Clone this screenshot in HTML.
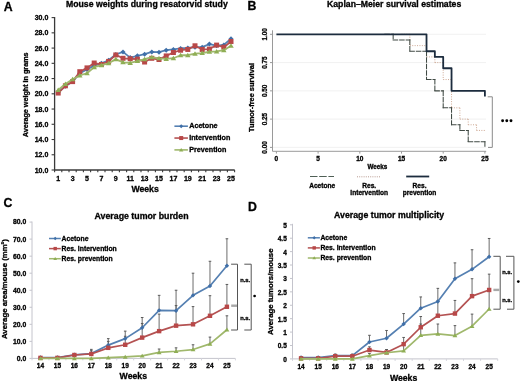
<!DOCTYPE html><html><head><meta charset="utf-8"><style>html,body{margin:0;padding:0;background:#fff;overflow:hidden}svg{display:block;filter:blur(0.4px)}text{stroke:#000;stroke-width:0.3px}</style></head><body>
<svg width="520" height="381" viewBox="0 0 520 381" font-family='"Liberation Sans", sans-serif' font-weight="bold">
<rect width="520" height="381" fill="#fff"/>
<text x="3.8" y="10.5" font-size="12.3" text-anchor="start" fill="#000">A</text>
<text x="66" y="6.9" font-size="8.7" text-anchor="start" fill="#000">Mouse weights during resatorvid study</text>
<line x1="54.6" y1="17" x2="54.6" y2="170" stroke="#3a3a3a" stroke-width="1.3"/>
<line x1="54" y1="170" x2="234.7" y2="170" stroke="#3a3a3a" stroke-width="1.3"/>
<line x1="51.6" y1="170" x2="54.6" y2="170" stroke="#3a3a3a" stroke-width="1.1"/>
<text x="48.3" y="172.5" font-size="7" text-anchor="end" fill="#000">10.0</text>
<line x1="51.6" y1="154.76" x2="54.6" y2="154.76" stroke="#3a3a3a" stroke-width="1.1"/>
<text x="48.3" y="157.26" font-size="7" text-anchor="end" fill="#000">12.0</text>
<line x1="51.6" y1="139.52" x2="54.6" y2="139.52" stroke="#3a3a3a" stroke-width="1.1"/>
<text x="48.3" y="142.02" font-size="7" text-anchor="end" fill="#000">14.0</text>
<line x1="51.6" y1="124.28" x2="54.6" y2="124.28" stroke="#3a3a3a" stroke-width="1.1"/>
<text x="48.3" y="126.78" font-size="7" text-anchor="end" fill="#000">16.0</text>
<line x1="51.6" y1="109.04" x2="54.6" y2="109.04" stroke="#3a3a3a" stroke-width="1.1"/>
<text x="48.3" y="111.54" font-size="7" text-anchor="end" fill="#000">18.0</text>
<line x1="51.6" y1="93.8" x2="54.6" y2="93.8" stroke="#3a3a3a" stroke-width="1.1"/>
<text x="48.3" y="96.3" font-size="7" text-anchor="end" fill="#000">20.0</text>
<line x1="51.6" y1="78.56" x2="54.6" y2="78.56" stroke="#3a3a3a" stroke-width="1.1"/>
<text x="48.3" y="81.06" font-size="7" text-anchor="end" fill="#000">22.0</text>
<line x1="51.6" y1="63.32" x2="54.6" y2="63.32" stroke="#3a3a3a" stroke-width="1.1"/>
<text x="48.3" y="65.82" font-size="7" text-anchor="end" fill="#000">24.0</text>
<line x1="51.6" y1="48.08" x2="54.6" y2="48.08" stroke="#3a3a3a" stroke-width="1.1"/>
<text x="48.3" y="50.58" font-size="7" text-anchor="end" fill="#000">26.0</text>
<line x1="51.6" y1="32.84" x2="54.6" y2="32.84" stroke="#3a3a3a" stroke-width="1.1"/>
<text x="48.3" y="35.34" font-size="7" text-anchor="end" fill="#000">28.0</text>
<line x1="51.6" y1="17.6" x2="54.6" y2="17.6" stroke="#3a3a3a" stroke-width="1.1"/>
<text x="48.3" y="20.1" font-size="7" text-anchor="end" fill="#000">30.0</text>
<line x1="54.6" y1="170" x2="54.6" y2="172.2" stroke="#3a3a3a" stroke-width="1.1"/>
<line x1="61.8" y1="170" x2="61.8" y2="172.2" stroke="#3a3a3a" stroke-width="1.1"/>
<line x1="69" y1="170" x2="69" y2="172.2" stroke="#3a3a3a" stroke-width="1.1"/>
<line x1="76.2" y1="170" x2="76.2" y2="172.2" stroke="#3a3a3a" stroke-width="1.1"/>
<line x1="83.4" y1="170" x2="83.4" y2="172.2" stroke="#3a3a3a" stroke-width="1.1"/>
<line x1="90.6" y1="170" x2="90.6" y2="172.2" stroke="#3a3a3a" stroke-width="1.1"/>
<line x1="97.8" y1="170" x2="97.8" y2="172.2" stroke="#3a3a3a" stroke-width="1.1"/>
<line x1="105" y1="170" x2="105" y2="172.2" stroke="#3a3a3a" stroke-width="1.1"/>
<line x1="112.2" y1="170" x2="112.2" y2="172.2" stroke="#3a3a3a" stroke-width="1.1"/>
<line x1="119.4" y1="170" x2="119.4" y2="172.2" stroke="#3a3a3a" stroke-width="1.1"/>
<line x1="126.6" y1="170" x2="126.6" y2="172.2" stroke="#3a3a3a" stroke-width="1.1"/>
<line x1="133.8" y1="170" x2="133.8" y2="172.2" stroke="#3a3a3a" stroke-width="1.1"/>
<line x1="141" y1="170" x2="141" y2="172.2" stroke="#3a3a3a" stroke-width="1.1"/>
<line x1="148.2" y1="170" x2="148.2" y2="172.2" stroke="#3a3a3a" stroke-width="1.1"/>
<line x1="155.4" y1="170" x2="155.4" y2="172.2" stroke="#3a3a3a" stroke-width="1.1"/>
<line x1="162.6" y1="170" x2="162.6" y2="172.2" stroke="#3a3a3a" stroke-width="1.1"/>
<line x1="169.8" y1="170" x2="169.8" y2="172.2" stroke="#3a3a3a" stroke-width="1.1"/>
<line x1="177" y1="170" x2="177" y2="172.2" stroke="#3a3a3a" stroke-width="1.1"/>
<line x1="184.2" y1="170" x2="184.2" y2="172.2" stroke="#3a3a3a" stroke-width="1.1"/>
<line x1="191.4" y1="170" x2="191.4" y2="172.2" stroke="#3a3a3a" stroke-width="1.1"/>
<line x1="198.6" y1="170" x2="198.6" y2="172.2" stroke="#3a3a3a" stroke-width="1.1"/>
<line x1="205.8" y1="170" x2="205.8" y2="172.2" stroke="#3a3a3a" stroke-width="1.1"/>
<line x1="213" y1="170" x2="213" y2="172.2" stroke="#3a3a3a" stroke-width="1.1"/>
<line x1="220.2" y1="170" x2="220.2" y2="172.2" stroke="#3a3a3a" stroke-width="1.1"/>
<line x1="227.4" y1="170" x2="227.4" y2="172.2" stroke="#3a3a3a" stroke-width="1.1"/>
<line x1="234.6" y1="170" x2="234.6" y2="172.2" stroke="#3a3a3a" stroke-width="1.1"/>
<text x="58.2" y="180.6" font-size="7" text-anchor="middle" fill="#000">1</text>
<text x="72.6" y="180.6" font-size="7" text-anchor="middle" fill="#000">3</text>
<text x="87" y="180.6" font-size="7" text-anchor="middle" fill="#000">5</text>
<text x="101.4" y="180.6" font-size="7" text-anchor="middle" fill="#000">7</text>
<text x="115.8" y="180.6" font-size="7" text-anchor="middle" fill="#000">9</text>
<text x="130.2" y="180.6" font-size="7" text-anchor="middle" fill="#000">11</text>
<text x="144.6" y="180.6" font-size="7" text-anchor="middle" fill="#000">13</text>
<text x="159" y="180.6" font-size="7" text-anchor="middle" fill="#000">15</text>
<text x="173.4" y="180.6" font-size="7" text-anchor="middle" fill="#000">17</text>
<text x="187.8" y="180.6" font-size="7" text-anchor="middle" fill="#000">19</text>
<text x="202.2" y="180.6" font-size="7" text-anchor="middle" fill="#000">21</text>
<text x="216.6" y="180.6" font-size="7" text-anchor="middle" fill="#000">23</text>
<text x="231" y="180.6" font-size="7" text-anchor="middle" fill="#000">25</text>
<text x="145.1" y="191.5" font-size="8.7" text-anchor="middle" fill="#000">Weeks</text>
<text x="27.7" y="94.85" font-size="7.2" text-anchor="middle" fill="#000" transform="rotate(-90 27.7 94.85)">Average weight in grams</text>
<polyline points="58.2,92.28 65.4,86.18 72.6,81.61 79.8,73.23 87,69.42 94.2,65.61 101.4,63.32 108.6,60.27 115.8,54.48 123,51.89 130.2,57.61 137.4,55.78 144.6,54.18 151.8,51.89 159,52.19 166.2,50.21 173.4,49.45 180.6,48.38 187.8,48 195,47.17 202.2,47.17 209.4,44.12 216.6,45.64 223.8,44.88 231,38.78" fill="none" stroke="#5580b2" stroke-width="1.8" stroke-linejoin="round"/>
<path d="M58.2 89.78L60.7 92.28L58.2 94.78L55.7 92.28Z" fill="#3f6fa8"/>
<path d="M65.4 83.68L67.9 86.18L65.4 88.68L62.9 86.18Z" fill="#3f6fa8"/>
<path d="M72.6 79.11L75.1 81.61L72.6 84.11L70.1 81.61Z" fill="#3f6fa8"/>
<path d="M79.8 70.73L82.3 73.23L79.8 75.73L77.3 73.23Z" fill="#3f6fa8"/>
<path d="M87 66.92L89.5 69.42L87 71.92L84.5 69.42Z" fill="#3f6fa8"/>
<path d="M94.2 63.11L96.7 65.61L94.2 68.11L91.7 65.61Z" fill="#3f6fa8"/>
<path d="M101.4 60.82L103.9 63.32L101.4 65.82L98.9 63.32Z" fill="#3f6fa8"/>
<path d="M108.6 57.77L111.1 60.27L108.6 62.77L106.1 60.27Z" fill="#3f6fa8"/>
<path d="M115.8 51.98L118.3 54.48L115.8 56.98L113.3 54.48Z" fill="#3f6fa8"/>
<path d="M123 49.39L125.5 51.89L123 54.39L120.5 51.89Z" fill="#3f6fa8"/>
<path d="M130.2 55.11L132.7 57.61L130.2 60.11L127.7 57.61Z" fill="#3f6fa8"/>
<path d="M137.4 53.28L139.9 55.78L137.4 58.28L134.9 55.78Z" fill="#3f6fa8"/>
<path d="M144.6 51.68L147.1 54.18L144.6 56.68L142.1 54.18Z" fill="#3f6fa8"/>
<path d="M151.8 49.39L154.3 51.89L151.8 54.39L149.3 51.89Z" fill="#3f6fa8"/>
<path d="M159 49.69L161.5 52.19L159 54.69L156.5 52.19Z" fill="#3f6fa8"/>
<path d="M166.2 47.71L168.7 50.21L166.2 52.71L163.7 50.21Z" fill="#3f6fa8"/>
<path d="M173.4 46.95L175.9 49.45L173.4 51.95L170.9 49.45Z" fill="#3f6fa8"/>
<path d="M180.6 45.88L183.1 48.38L180.6 50.88L178.1 48.38Z" fill="#3f6fa8"/>
<path d="M187.8 45.5L190.3 48L187.8 50.5L185.3 48Z" fill="#3f6fa8"/>
<path d="M195 44.67L197.5 47.17L195 49.67L192.5 47.17Z" fill="#3f6fa8"/>
<path d="M202.2 44.67L204.7 47.17L202.2 49.67L199.7 47.17Z" fill="#3f6fa8"/>
<path d="M209.4 41.62L211.9 44.12L209.4 46.62L206.9 44.12Z" fill="#3f6fa8"/>
<path d="M216.6 43.14L219.1 45.64L216.6 48.14L214.1 45.64Z" fill="#3f6fa8"/>
<path d="M223.8 42.38L226.3 44.88L223.8 47.38L221.3 44.88Z" fill="#3f6fa8"/>
<path d="M231 36.28L233.5 38.78L231 41.28L228.5 38.78Z" fill="#3f6fa8"/>
<polyline points="58.2,93.04 65.4,85.8 72.6,81.61 79.8,71.7 87,67.89 94.2,63.02 101.4,64.46 108.6,61.41 115.8,54.94 123,58.29 130.2,58.75 137.4,59.13 144.6,62.02 151.8,58.29 159,59.51 166.2,55.93 173.4,52.5 180.6,50.21 187.8,49.45 195,45.79 202.2,49.45 209.4,49.07 216.6,45.11 223.8,47.17 231,41.53" fill="none" stroke="#b45252" stroke-width="1.8" stroke-linejoin="round"/>
<rect x="55.7" y="90.54" width="5" height="5" fill="#b84848"/>
<rect x="62.9" y="83.3" width="5" height="5" fill="#b84848"/>
<rect x="70.1" y="79.11" width="5" height="5" fill="#b84848"/>
<rect x="77.3" y="69.2" width="5" height="5" fill="#b84848"/>
<rect x="84.5" y="65.39" width="5" height="5" fill="#b84848"/>
<rect x="91.7" y="60.52" width="5" height="5" fill="#b84848"/>
<rect x="98.9" y="61.96" width="5" height="5" fill="#b84848"/>
<rect x="106.1" y="58.91" width="5" height="5" fill="#b84848"/>
<rect x="113.3" y="52.44" width="5" height="5" fill="#b84848"/>
<rect x="120.5" y="55.79" width="5" height="5" fill="#b84848"/>
<rect x="127.7" y="56.25" width="5" height="5" fill="#b84848"/>
<rect x="134.9" y="56.63" width="5" height="5" fill="#b84848"/>
<rect x="142.1" y="59.52" width="5" height="5" fill="#b84848"/>
<rect x="149.3" y="55.79" width="5" height="5" fill="#b84848"/>
<rect x="156.5" y="57.01" width="5" height="5" fill="#b84848"/>
<rect x="163.7" y="53.43" width="5" height="5" fill="#b84848"/>
<rect x="170.9" y="50" width="5" height="5" fill="#b84848"/>
<rect x="178.1" y="47.71" width="5" height="5" fill="#b84848"/>
<rect x="185.3" y="46.95" width="5" height="5" fill="#b84848"/>
<rect x="192.5" y="43.29" width="5" height="5" fill="#b84848"/>
<rect x="199.7" y="46.95" width="5" height="5" fill="#b84848"/>
<rect x="206.9" y="46.57" width="5" height="5" fill="#b84848"/>
<rect x="214.1" y="42.61" width="5" height="5" fill="#b84848"/>
<rect x="221.3" y="44.67" width="5" height="5" fill="#b84848"/>
<rect x="228.5" y="39.03" width="5" height="5" fill="#b84848"/>
<polyline points="58.2,89.99 65.4,83.89 72.6,79.32 79.8,75.51 87,73.23 94.2,67.13 101.4,65.22 108.6,63.32 115.8,59.13 123,62.33 130.2,62.94 137.4,61.03 144.6,59.13 151.8,57.22 159,58.29 166.2,58.9 173.4,58.21 180.6,55.24 187.8,55.24 195,53.72 202.2,53.03 209.4,51.74 216.6,51.43 223.8,50.21 231,45.79" fill="none" stroke="#a0b86c" stroke-width="1.8" stroke-linejoin="round"/>
<path d="M58.2 87.49L60.95 91.99L55.45 91.99Z" fill="#8fae55"/>
<path d="M65.4 81.39L68.15 85.89L62.65 85.89Z" fill="#8fae55"/>
<path d="M72.6 76.82L75.35 81.32L69.85 81.32Z" fill="#8fae55"/>
<path d="M79.8 73.01L82.55 77.51L77.05 77.51Z" fill="#8fae55"/>
<path d="M87 70.73L89.75 75.23L84.25 75.23Z" fill="#8fae55"/>
<path d="M94.2 64.63L96.95 69.13L91.45 69.13Z" fill="#8fae55"/>
<path d="M101.4 62.72L104.15 67.22L98.65 67.22Z" fill="#8fae55"/>
<path d="M108.6 60.82L111.35 65.32L105.85 65.32Z" fill="#8fae55"/>
<path d="M115.8 56.63L118.55 61.13L113.05 61.13Z" fill="#8fae55"/>
<path d="M123 59.83L125.75 64.33L120.25 64.33Z" fill="#8fae55"/>
<path d="M130.2 60.44L132.95 64.94L127.45 64.94Z" fill="#8fae55"/>
<path d="M137.4 58.53L140.15 63.03L134.65 63.03Z" fill="#8fae55"/>
<path d="M144.6 56.63L147.35 61.13L141.85 61.13Z" fill="#8fae55"/>
<path d="M151.8 54.72L154.55 59.22L149.05 59.22Z" fill="#8fae55"/>
<path d="M159 55.79L161.75 60.29L156.25 60.29Z" fill="#8fae55"/>
<path d="M166.2 56.4L168.95 60.9L163.45 60.9Z" fill="#8fae55"/>
<path d="M173.4 55.71L176.15 60.21L170.65 60.21Z" fill="#8fae55"/>
<path d="M180.6 52.74L183.35 57.24L177.85 57.24Z" fill="#8fae55"/>
<path d="M187.8 52.74L190.55 57.24L185.05 57.24Z" fill="#8fae55"/>
<path d="M195 51.22L197.75 55.72L192.25 55.72Z" fill="#8fae55"/>
<path d="M202.2 50.53L204.95 55.03L199.45 55.03Z" fill="#8fae55"/>
<path d="M209.4 49.24L212.15 53.74L206.65 53.74Z" fill="#8fae55"/>
<path d="M216.6 48.93L219.35 53.43L213.85 53.43Z" fill="#8fae55"/>
<path d="M223.8 47.71L226.55 52.21L221.05 52.21Z" fill="#8fae55"/>
<path d="M231 43.29L233.75 47.79L228.25 47.79Z" fill="#8fae55"/>
<line x1="174.4" y1="126.2" x2="187.9" y2="126.2" stroke="#5580b2" stroke-width="1.6"/>
<path d="M181.2 124.2L183.2 126.2L181.2 128.2L179.2 126.2Z" fill="#3f6fa8"/>
<text x="189.2" y="128.4" font-size="7.2" text-anchor="start" fill="#000">Acetone</text>
<line x1="174.4" y1="138.05" x2="187.9" y2="138.05" stroke="#b45252" stroke-width="1.6"/>
<rect x="179.2" y="136.05" width="4" height="4" fill="#b84848"/>
<text x="189.2" y="140.25" font-size="7.2" text-anchor="start" fill="#000">Intervention</text>
<line x1="174.4" y1="149.9" x2="187.9" y2="149.9" stroke="#a0b86c" stroke-width="1.6"/>
<path d="M181.2 147.9L183.4 151.5L179 151.5Z" fill="#8fae55"/>
<text x="189.2" y="152.1" font-size="7.2" text-anchor="start" fill="#000">Prevention</text>
<text x="247.6" y="10.3" font-size="12.3" text-anchor="start" fill="#000">B</text>
<text x="327" y="6.9" font-size="8.7" text-anchor="start" fill="#000">Kaplan–Meier survival estimates</text>
<line x1="273" y1="147.4" x2="486" y2="147.4" stroke="#ededed" stroke-width="0.8"/>
<line x1="273" y1="119.12" x2="486" y2="119.12" stroke="#ededed" stroke-width="0.8"/>
<line x1="273" y1="90.85" x2="486" y2="90.85" stroke="#ededed" stroke-width="0.8"/>
<line x1="273" y1="62.58" x2="486" y2="62.58" stroke="#ededed" stroke-width="0.8"/>
<line x1="273" y1="34.3" x2="486" y2="34.3" stroke="#ededed" stroke-width="0.8"/>
<line x1="272.5" y1="30.3" x2="272.5" y2="151.3" stroke="#9a9a9a" stroke-width="1"/>
<line x1="272.5" y1="151.3" x2="486.2" y2="151.3" stroke="#9a9a9a" stroke-width="1"/>
<line x1="270" y1="147.4" x2="272.5" y2="147.4" stroke="#9a9a9a" stroke-width="1"/>
<text x="266.6" y="147.4" font-size="6.4" text-anchor="middle" fill="#000" transform="rotate(-90 266.6 147.4)">0.00</text>
<line x1="270" y1="119.12" x2="272.5" y2="119.12" stroke="#9a9a9a" stroke-width="1"/>
<text x="266.6" y="119.12" font-size="6.4" text-anchor="middle" fill="#000" transform="rotate(-90 266.6 119.12)">0.25</text>
<line x1="270" y1="90.85" x2="272.5" y2="90.85" stroke="#9a9a9a" stroke-width="1"/>
<text x="266.6" y="90.85" font-size="6.4" text-anchor="middle" fill="#000" transform="rotate(-90 266.6 90.85)">0.50</text>
<line x1="270" y1="62.58" x2="272.5" y2="62.58" stroke="#9a9a9a" stroke-width="1"/>
<text x="266.6" y="62.58" font-size="6.4" text-anchor="middle" fill="#000" transform="rotate(-90 266.6 62.58)">0.75</text>
<line x1="270" y1="34.3" x2="272.5" y2="34.3" stroke="#9a9a9a" stroke-width="1"/>
<text x="266.6" y="34.3" font-size="6.4" text-anchor="middle" fill="#000" transform="rotate(-90 266.6 34.3)">1.00</text>
<line x1="276.4" y1="151.3" x2="276.4" y2="153.6" stroke="#9a9a9a" stroke-width="1"/>
<text x="276.4" y="160.7" font-size="6.5" text-anchor="middle" fill="#000">0</text>
<line x1="318.1" y1="151.3" x2="318.1" y2="153.6" stroke="#9a9a9a" stroke-width="1"/>
<text x="318.1" y="160.7" font-size="6.5" text-anchor="middle" fill="#000">5</text>
<line x1="359.8" y1="151.3" x2="359.8" y2="153.6" stroke="#9a9a9a" stroke-width="1"/>
<text x="359.8" y="160.7" font-size="6.5" text-anchor="middle" fill="#000">10</text>
<line x1="401.5" y1="151.3" x2="401.5" y2="153.6" stroke="#9a9a9a" stroke-width="1"/>
<text x="401.5" y="160.7" font-size="6.5" text-anchor="middle" fill="#000">15</text>
<line x1="443.2" y1="151.3" x2="443.2" y2="153.6" stroke="#9a9a9a" stroke-width="1"/>
<text x="443.2" y="160.7" font-size="6.5" text-anchor="middle" fill="#000">20</text>
<line x1="484.9" y1="151.3" x2="484.9" y2="153.6" stroke="#9a9a9a" stroke-width="1"/>
<text x="484.9" y="160.7" font-size="6.5" text-anchor="middle" fill="#000">25</text>
<text x="377.3" y="168.9" font-size="6.3" text-anchor="middle" fill="#000">Weeks</text>
<text x="254.4" y="97.45" font-size="7.45" text-anchor="middle" fill="#000" transform="rotate(-90 254.4 97.45)">Tumor-free survival</text>
<line x1="401.5" y1="34.3" x2="409.84" y2="34.3" stroke="#c9a08a" stroke-width="0.9" stroke-dasharray="1 1.4"/>
<line x1="409.84" y1="34.3" x2="409.84" y2="45.61" stroke="#c9a08a" stroke-width="0.9" stroke-dasharray="1 1.4"/>
<line x1="409.84" y1="45.61" x2="426.52" y2="45.61" stroke="#c9a08a" stroke-width="0.9" stroke-dasharray="1 1.4"/>
<line x1="426.52" y1="45.61" x2="426.52" y2="56.92" stroke="#c9a08a" stroke-width="0.9" stroke-dasharray="1 1.4"/>
<line x1="426.52" y1="56.92" x2="434.86" y2="56.92" stroke="#c9a08a" stroke-width="0.9" stroke-dasharray="1 1.4"/>
<line x1="434.86" y1="56.92" x2="434.86" y2="62.58" stroke="#c9a08a" stroke-width="0.9" stroke-dasharray="1 1.4"/>
<line x1="434.86" y1="62.58" x2="443.2" y2="62.58" stroke="#c9a08a" stroke-width="0.9" stroke-dasharray="1 1.4"/>
<line x1="443.2" y1="62.58" x2="443.2" y2="79.54" stroke="#c9a08a" stroke-width="0.9" stroke-dasharray="1 1.4"/>
<line x1="443.2" y1="79.54" x2="451.54" y2="79.54" stroke="#c9a08a" stroke-width="0.9" stroke-dasharray="1 1.4"/>
<line x1="451.54" y1="79.54" x2="451.54" y2="107.82" stroke="#c9a08a" stroke-width="0.9" stroke-dasharray="1 1.4"/>
<line x1="451.54" y1="107.82" x2="459.88" y2="107.82" stroke="#c9a08a" stroke-width="0.9" stroke-dasharray="1 1.4"/>
<line x1="459.88" y1="107.82" x2="459.88" y2="119.12" stroke="#c9a08a" stroke-width="0.9" stroke-dasharray="1 1.4"/>
<line x1="459.88" y1="119.12" x2="468.22" y2="119.12" stroke="#c9a08a" stroke-width="0.9" stroke-dasharray="1 1.4"/>
<line x1="468.22" y1="119.12" x2="468.22" y2="124.78" stroke="#c9a08a" stroke-width="0.9" stroke-dasharray="1 1.4"/>
<line x1="468.22" y1="124.78" x2="476.56" y2="124.78" stroke="#c9a08a" stroke-width="0.9" stroke-dasharray="1 1.4"/>
<line x1="476.56" y1="124.78" x2="476.56" y2="130.44" stroke="#c9a08a" stroke-width="0.9" stroke-dasharray="1 1.4"/>
<line x1="476.56" y1="130.44" x2="484.9" y2="130.44" stroke="#c9a08a" stroke-width="0.9" stroke-dasharray="1 1.4"/>
<line x1="484.9" y1="130.44" x2="484.9" y2="130.44" stroke="#c9a08a" stroke-width="0.9" stroke-dasharray="1 1.4"/>
<line x1="384.82" y1="34.3" x2="393.16" y2="34.3" stroke="#404a44" stroke-width="1.05" stroke-dasharray="4.5 2" stroke-linecap="square"/>
<line x1="393.16" y1="34.3" x2="393.16" y2="39.96" stroke="#404a44" stroke-width="1.05" stroke-dasharray="4.5 2" stroke-linecap="square"/>
<line x1="393.16" y1="39.96" x2="409.84" y2="39.96" stroke="#404a44" stroke-width="1.05" stroke-dasharray="4.5 2" stroke-linecap="square"/>
<line x1="409.84" y1="39.96" x2="409.84" y2="51.27" stroke="#404a44" stroke-width="1.05" stroke-dasharray="4.5 2" stroke-linecap="square"/>
<line x1="409.84" y1="51.27" x2="426.52" y2="51.27" stroke="#404a44" stroke-width="1.05" stroke-dasharray="4.5 2" stroke-linecap="square"/>
<line x1="426.52" y1="51.27" x2="426.52" y2="79.54" stroke="#404a44" stroke-width="1.05" stroke-dasharray="4.5 2" stroke-linecap="square"/>
<line x1="426.52" y1="79.54" x2="434.86" y2="79.54" stroke="#404a44" stroke-width="1.05" stroke-dasharray="4.5 2" stroke-linecap="square"/>
<line x1="434.86" y1="79.54" x2="434.86" y2="90.85" stroke="#404a44" stroke-width="1.05" stroke-dasharray="4.5 2" stroke-linecap="square"/>
<line x1="434.86" y1="90.85" x2="443.2" y2="90.85" stroke="#404a44" stroke-width="1.05" stroke-dasharray="4.5 2" stroke-linecap="square"/>
<line x1="443.2" y1="90.85" x2="443.2" y2="107.82" stroke="#404a44" stroke-width="1.05" stroke-dasharray="4.5 2" stroke-linecap="square"/>
<line x1="443.2" y1="107.82" x2="451.54" y2="107.82" stroke="#404a44" stroke-width="1.05" stroke-dasharray="4.5 2" stroke-linecap="square"/>
<line x1="451.54" y1="107.82" x2="451.54" y2="124.78" stroke="#404a44" stroke-width="1.05" stroke-dasharray="4.5 2" stroke-linecap="square"/>
<line x1="451.54" y1="124.78" x2="459.88" y2="124.78" stroke="#404a44" stroke-width="1.05" stroke-dasharray="4.5 2" stroke-linecap="square"/>
<line x1="459.88" y1="124.78" x2="459.88" y2="130.44" stroke="#404a44" stroke-width="1.05" stroke-dasharray="4.5 2" stroke-linecap="square"/>
<line x1="459.88" y1="130.44" x2="468.22" y2="130.44" stroke="#404a44" stroke-width="1.05" stroke-dasharray="4.5 2" stroke-linecap="square"/>
<line x1="468.22" y1="130.44" x2="468.22" y2="141.75" stroke="#404a44" stroke-width="1.05" stroke-dasharray="4.5 2" stroke-linecap="square"/>
<line x1="468.22" y1="141.75" x2="484.9" y2="141.75" stroke="#404a44" stroke-width="1.05" stroke-dasharray="4.5 2" stroke-linecap="square"/>
<line x1="484.9" y1="141.75" x2="484.9" y2="147.4" stroke="#404a44" stroke-width="1.05" stroke-dasharray="4.5 2" stroke-linecap="square"/>
<polyline points="276.4,34.3 426.52,34.3 426.52,51.27 434.86,51.27 434.86,56.92 443.2,56.92 443.2,68.23 451.54,68.23 451.54,90.85 484.9,90.85 484.9,96.51" fill="none" stroke="#1c2c3e" stroke-width="1.8" stroke-linejoin="round" stroke-linejoin="miter"/>
<polyline points="487.7,96.8 492.3,96.8 492.3,147.4 488,147.4" fill="none" stroke="#8a8a8a" stroke-width="1" stroke-linejoin="round"/>
<circle cx="502.6" cy="120.8" r="1.45" fill="#000"/>
<circle cx="506.8" cy="120.8" r="1.45" fill="#000"/>
<circle cx="511.0" cy="120.8" r="1.45" fill="#000"/>
<line x1="310" y1="176.5" x2="334" y2="176.5" stroke="#4f5f55" stroke-width="1.1" stroke-dasharray="7.5 1.7"/>
<line x1="357" y1="176.8" x2="380" y2="176.8" stroke="#b89a90" stroke-width="1" stroke-dasharray="1 1.2"/>
<line x1="406.2" y1="176.5" x2="429.2" y2="176.5" stroke="#1c2c3e" stroke-width="1.8"/>
<text x="322.2" y="187.6" font-size="6.6" text-anchor="middle" fill="#000">Acetone</text>
<text x="369.2" y="187.6" font-size="6.6" text-anchor="middle" fill="#000">Res.</text>
<text x="369.2" y="195" font-size="6.6" text-anchor="middle" fill="#000">Intervention</text>
<text x="419.5" y="187.6" font-size="6.6" text-anchor="middle" fill="#000">Res.</text>
<text x="419.5" y="195" font-size="6.6" text-anchor="middle" fill="#000">prevention</text>
<text x="3.6" y="206.8" font-size="12.3" text-anchor="start" fill="#000">C</text>
<text x="94.5" y="218.7" font-size="8.8" text-anchor="start" fill="#000">Average tumor burden</text>
<line x1="32" y1="221.5" x2="32" y2="358.4" stroke="#c4c4cc" stroke-width="1"/>
<line x1="32" y1="358.4" x2="235.4" y2="358.4" stroke="#c4c4cc" stroke-width="1"/>
<line x1="29.5" y1="358.4" x2="32" y2="358.4" stroke="#c4c4cc" stroke-width="1"/>
<text x="26.3" y="360.8" font-size="6.8" text-anchor="end" fill="#000">0.0</text>
<line x1="29.5" y1="341.36" x2="32" y2="341.36" stroke="#c4c4cc" stroke-width="1"/>
<text x="26.3" y="343.76" font-size="6.8" text-anchor="end" fill="#000">10.0</text>
<line x1="29.5" y1="324.32" x2="32" y2="324.32" stroke="#c4c4cc" stroke-width="1"/>
<text x="26.3" y="326.72" font-size="6.8" text-anchor="end" fill="#000">20.0</text>
<line x1="29.5" y1="307.28" x2="32" y2="307.28" stroke="#c4c4cc" stroke-width="1"/>
<text x="26.3" y="309.68" font-size="6.8" text-anchor="end" fill="#000">30.0</text>
<line x1="29.5" y1="290.24" x2="32" y2="290.24" stroke="#c4c4cc" stroke-width="1"/>
<text x="26.3" y="292.64" font-size="6.8" text-anchor="end" fill="#000">40.0</text>
<line x1="29.5" y1="273.2" x2="32" y2="273.2" stroke="#c4c4cc" stroke-width="1"/>
<text x="26.3" y="275.6" font-size="6.8" text-anchor="end" fill="#000">50.0</text>
<line x1="29.5" y1="256.16" x2="32" y2="256.16" stroke="#c4c4cc" stroke-width="1"/>
<text x="26.3" y="258.56" font-size="6.8" text-anchor="end" fill="#000">60.0</text>
<line x1="29.5" y1="239.12" x2="32" y2="239.12" stroke="#c4c4cc" stroke-width="1"/>
<text x="26.3" y="241.52" font-size="6.8" text-anchor="end" fill="#000">70.0</text>
<line x1="29.5" y1="222.08" x2="32" y2="222.08" stroke="#c4c4cc" stroke-width="1"/>
<text x="26.3" y="224.48" font-size="6.8" text-anchor="end" fill="#000">80.0</text>
<line x1="32" y1="358.4" x2="32" y2="360.4" stroke="#d4d4dc" stroke-width="1"/>
<line x1="48.95" y1="358.4" x2="48.95" y2="360.4" stroke="#d4d4dc" stroke-width="1"/>
<line x1="65.9" y1="358.4" x2="65.9" y2="360.4" stroke="#d4d4dc" stroke-width="1"/>
<line x1="82.85" y1="358.4" x2="82.85" y2="360.4" stroke="#d4d4dc" stroke-width="1"/>
<line x1="99.8" y1="358.4" x2="99.8" y2="360.4" stroke="#d4d4dc" stroke-width="1"/>
<line x1="116.75" y1="358.4" x2="116.75" y2="360.4" stroke="#d4d4dc" stroke-width="1"/>
<line x1="133.7" y1="358.4" x2="133.7" y2="360.4" stroke="#d4d4dc" stroke-width="1"/>
<line x1="150.65" y1="358.4" x2="150.65" y2="360.4" stroke="#d4d4dc" stroke-width="1"/>
<line x1="167.6" y1="358.4" x2="167.6" y2="360.4" stroke="#d4d4dc" stroke-width="1"/>
<line x1="184.55" y1="358.4" x2="184.55" y2="360.4" stroke="#d4d4dc" stroke-width="1"/>
<line x1="201.5" y1="358.4" x2="201.5" y2="360.4" stroke="#d4d4dc" stroke-width="1"/>
<line x1="218.45" y1="358.4" x2="218.45" y2="360.4" stroke="#d4d4dc" stroke-width="1"/>
<line x1="235.4" y1="358.4" x2="235.4" y2="360.4" stroke="#d4d4dc" stroke-width="1"/>
<text x="40.48" y="368.2" font-size="6.5" text-anchor="middle" fill="#000">14</text>
<text x="57.42" y="368.2" font-size="6.5" text-anchor="middle" fill="#000">15</text>
<text x="74.38" y="368.2" font-size="6.5" text-anchor="middle" fill="#000">16</text>
<text x="91.32" y="368.2" font-size="6.5" text-anchor="middle" fill="#000">17</text>
<text x="108.27" y="368.2" font-size="6.5" text-anchor="middle" fill="#000">18</text>
<text x="125.22" y="368.2" font-size="6.5" text-anchor="middle" fill="#000">19</text>
<text x="142.18" y="368.2" font-size="6.5" text-anchor="middle" fill="#000">20</text>
<text x="159.12" y="368.2" font-size="6.5" text-anchor="middle" fill="#000">21</text>
<text x="176.07" y="368.2" font-size="6.5" text-anchor="middle" fill="#000">22</text>
<text x="193.03" y="368.2" font-size="6.5" text-anchor="middle" fill="#000">23</text>
<text x="209.97" y="368.2" font-size="6.5" text-anchor="middle" fill="#000">24</text>
<text x="226.92" y="368.2" font-size="6.5" text-anchor="middle" fill="#000">25</text>
<text x="133.3" y="378.8" font-size="8.7" text-anchor="middle" fill="#000">Weeks</text>
<text x="6.8" y="289.1" font-size="7.8" text-anchor="middle" transform="rotate(-90 6.8 289.1)">Average area/mouse (mm²)</text>
<line x1="91.32" y1="353.63" x2="91.32" y2="349.37" stroke="#5a5a5a" stroke-width="0.9"/>
<line x1="90.02" y1="349.37" x2="92.62" y2="349.37" stroke="#5a5a5a" stroke-width="1"/>
<line x1="108.27" y1="345.11" x2="108.27" y2="338.63" stroke="#5a5a5a" stroke-width="0.9"/>
<line x1="106.97" y1="338.63" x2="109.57" y2="338.63" stroke="#5a5a5a" stroke-width="1"/>
<line x1="125.22" y1="338.63" x2="125.22" y2="331.14" stroke="#5a5a5a" stroke-width="0.9"/>
<line x1="123.92" y1="331.14" x2="126.52" y2="331.14" stroke="#5a5a5a" stroke-width="1"/>
<line x1="142.18" y1="327.73" x2="142.18" y2="317.5" stroke="#5a5a5a" stroke-width="0.9"/>
<line x1="140.88" y1="317.5" x2="143.48" y2="317.5" stroke="#5a5a5a" stroke-width="1"/>
<line x1="159.12" y1="310.35" x2="159.12" y2="295.35" stroke="#5a5a5a" stroke-width="0.9"/>
<line x1="157.82" y1="295.35" x2="160.43" y2="295.35" stroke="#5a5a5a" stroke-width="1"/>
<line x1="176.07" y1="310.69" x2="176.07" y2="290.24" stroke="#5a5a5a" stroke-width="0.9"/>
<line x1="174.77" y1="290.24" x2="177.38" y2="290.24" stroke="#5a5a5a" stroke-width="1"/>
<line x1="193.03" y1="295.35" x2="193.03" y2="273.2" stroke="#5a5a5a" stroke-width="0.9"/>
<line x1="191.72" y1="273.2" x2="194.33" y2="273.2" stroke="#5a5a5a" stroke-width="1"/>
<line x1="209.97" y1="285.98" x2="209.97" y2="261.27" stroke="#5a5a5a" stroke-width="0.9"/>
<line x1="208.67" y1="261.27" x2="211.28" y2="261.27" stroke="#5a5a5a" stroke-width="1"/>
<line x1="226.92" y1="265.7" x2="226.92" y2="238.78" stroke="#5a5a5a" stroke-width="0.9"/>
<line x1="225.62" y1="238.78" x2="228.22" y2="238.78" stroke="#5a5a5a" stroke-width="1"/>
<line x1="91.32" y1="353.97" x2="91.32" y2="350.73" stroke="#5a5a5a" stroke-width="0.9"/>
<line x1="90.02" y1="350.73" x2="92.62" y2="350.73" stroke="#5a5a5a" stroke-width="1"/>
<line x1="108.27" y1="347.84" x2="108.27" y2="341.36" stroke="#5a5a5a" stroke-width="0.9"/>
<line x1="106.97" y1="341.36" x2="109.57" y2="341.36" stroke="#5a5a5a" stroke-width="1"/>
<line x1="125.22" y1="344.77" x2="125.22" y2="336.25" stroke="#5a5a5a" stroke-width="0.9"/>
<line x1="123.92" y1="336.25" x2="126.52" y2="336.25" stroke="#5a5a5a" stroke-width="1"/>
<line x1="142.18" y1="337.61" x2="142.18" y2="323.47" stroke="#5a5a5a" stroke-width="0.9"/>
<line x1="140.88" y1="323.47" x2="143.48" y2="323.47" stroke="#5a5a5a" stroke-width="1"/>
<line x1="159.12" y1="331.14" x2="159.12" y2="314.1" stroke="#5a5a5a" stroke-width="0.9"/>
<line x1="157.82" y1="314.1" x2="160.43" y2="314.1" stroke="#5a5a5a" stroke-width="1"/>
<line x1="176.07" y1="325.68" x2="176.07" y2="305.58" stroke="#5a5a5a" stroke-width="0.9"/>
<line x1="174.77" y1="305.58" x2="177.38" y2="305.58" stroke="#5a5a5a" stroke-width="1"/>
<line x1="193.03" y1="324.32" x2="193.03" y2="306.6" stroke="#5a5a5a" stroke-width="0.9"/>
<line x1="191.72" y1="306.6" x2="194.33" y2="306.6" stroke="#5a5a5a" stroke-width="1"/>
<line x1="209.97" y1="315.8" x2="209.97" y2="295.69" stroke="#5a5a5a" stroke-width="0.9"/>
<line x1="208.67" y1="295.69" x2="211.28" y2="295.69" stroke="#5a5a5a" stroke-width="1"/>
<line x1="226.92" y1="306.77" x2="226.92" y2="284.45" stroke="#5a5a5a" stroke-width="0.9"/>
<line x1="225.62" y1="284.45" x2="228.22" y2="284.45" stroke="#5a5a5a" stroke-width="1"/>
<line x1="159.12" y1="352.44" x2="159.12" y2="349.03" stroke="#5a5a5a" stroke-width="0.9"/>
<line x1="157.82" y1="349.03" x2="160.43" y2="349.03" stroke="#5a5a5a" stroke-width="1"/>
<line x1="176.07" y1="351.24" x2="176.07" y2="347.84" stroke="#5a5a5a" stroke-width="0.9"/>
<line x1="174.77" y1="347.84" x2="177.38" y2="347.84" stroke="#5a5a5a" stroke-width="1"/>
<line x1="193.03" y1="349.54" x2="193.03" y2="344.77" stroke="#5a5a5a" stroke-width="0.9"/>
<line x1="191.72" y1="344.77" x2="194.33" y2="344.77" stroke="#5a5a5a" stroke-width="1"/>
<line x1="209.97" y1="343.92" x2="209.97" y2="337.1" stroke="#5a5a5a" stroke-width="0.9"/>
<line x1="208.67" y1="337.1" x2="211.28" y2="337.1" stroke="#5a5a5a" stroke-width="1"/>
<line x1="226.92" y1="329.77" x2="226.92" y2="315.8" stroke="#5a5a5a" stroke-width="0.9"/>
<line x1="225.62" y1="315.8" x2="228.22" y2="315.8" stroke="#5a5a5a" stroke-width="1"/>
<polyline points="40.48,357.55 57.42,357.55 74.38,354.82 91.32,353.63 108.27,345.11 125.22,338.63 142.18,327.73 159.12,310.35 176.07,310.69 193.03,295.35 209.97,285.98 226.92,265.7" fill="none" stroke="#5580b2" stroke-width="1.7" stroke-linejoin="round"/>
<path d="M40.48 355.35L42.68 357.55L40.48 359.75L38.27 357.55Z" fill="#3f6fa8"/>
<path d="M57.42 355.35L59.62 357.55L57.42 359.75L55.22 357.55Z" fill="#3f6fa8"/>
<path d="M74.38 352.62L76.58 354.82L74.38 357.02L72.17 354.82Z" fill="#3f6fa8"/>
<path d="M91.32 351.43L93.52 353.63L91.32 355.83L89.12 353.63Z" fill="#3f6fa8"/>
<path d="M108.27 342.91L110.47 345.11L108.27 347.31L106.07 345.11Z" fill="#3f6fa8"/>
<path d="M125.22 336.43L127.42 338.63L125.22 340.83L123.02 338.63Z" fill="#3f6fa8"/>
<path d="M142.18 325.53L144.38 327.73L142.18 329.93L139.98 327.73Z" fill="#3f6fa8"/>
<path d="M159.12 308.15L161.32 310.35L159.12 312.55L156.93 310.35Z" fill="#3f6fa8"/>
<path d="M176.07 308.49L178.27 310.69L176.07 312.89L173.88 310.69Z" fill="#3f6fa8"/>
<path d="M193.03 293.15L195.22 295.35L193.03 297.55L190.83 295.35Z" fill="#3f6fa8"/>
<path d="M209.97 283.78L212.17 285.98L209.97 288.18L207.78 285.98Z" fill="#3f6fa8"/>
<path d="M226.92 263.5L229.12 265.7L226.92 267.9L224.72 265.7Z" fill="#3f6fa8"/>
<polyline points="40.48,357.89 57.42,357.89 74.38,354.99 91.32,353.97 108.27,347.84 125.22,344.77 142.18,337.61 159.12,331.14 176.07,325.68 193.03,324.32 209.97,315.8 226.92,306.77" fill="none" stroke="#b45252" stroke-width="1.7" stroke-linejoin="round"/>
<rect x="38.27" y="355.69" width="4.4" height="4.4" fill="#b84848"/>
<rect x="55.22" y="355.69" width="4.4" height="4.4" fill="#b84848"/>
<rect x="72.17" y="352.79" width="4.4" height="4.4" fill="#b84848"/>
<rect x="89.12" y="351.77" width="4.4" height="4.4" fill="#b84848"/>
<rect x="106.07" y="345.64" width="4.4" height="4.4" fill="#b84848"/>
<rect x="123.02" y="342.57" width="4.4" height="4.4" fill="#b84848"/>
<rect x="139.98" y="335.41" width="4.4" height="4.4" fill="#b84848"/>
<rect x="156.93" y="328.94" width="4.4" height="4.4" fill="#b84848"/>
<rect x="173.88" y="323.48" width="4.4" height="4.4" fill="#b84848"/>
<rect x="190.83" y="322.12" width="4.4" height="4.4" fill="#b84848"/>
<rect x="207.78" y="313.6" width="4.4" height="4.4" fill="#b84848"/>
<rect x="224.72" y="304.57" width="4.4" height="4.4" fill="#b84848"/>
<polyline points="40.48,358.4 57.42,358.4 74.38,358.4 91.32,358.4 108.27,357.72 125.22,356.87 142.18,355.84 159.12,352.44 176.07,351.24 193.03,349.54 209.97,343.92 226.92,329.77" fill="none" stroke="#a0b86c" stroke-width="1.7" stroke-linejoin="round"/>
<path d="M40.48 356.2L42.9 360.16L38.05 360.16Z" fill="#8fae55"/>
<path d="M57.42 356.2L59.84 360.16L55 360.16Z" fill="#8fae55"/>
<path d="M74.38 356.2L76.8 360.16L71.95 360.16Z" fill="#8fae55"/>
<path d="M91.32 356.2L93.74 360.16L88.9 360.16Z" fill="#8fae55"/>
<path d="M108.27 355.52L110.69 359.48L105.85 359.48Z" fill="#8fae55"/>
<path d="M125.22 354.67L127.64 358.63L122.8 358.63Z" fill="#8fae55"/>
<path d="M142.18 353.64L144.59 357.6L139.76 357.6Z" fill="#8fae55"/>
<path d="M159.12 350.24L161.54 354.2L156.71 354.2Z" fill="#8fae55"/>
<path d="M176.07 349.04L178.49 353L173.66 353Z" fill="#8fae55"/>
<path d="M193.03 347.34L195.44 351.3L190.61 351.3Z" fill="#8fae55"/>
<path d="M209.97 341.72L212.39 345.68L207.56 345.68Z" fill="#8fae55"/>
<path d="M226.92 327.57L229.34 331.53L224.5 331.53Z" fill="#8fae55"/>
<line x1="49" y1="238.5" x2="60.8" y2="238.5" stroke="#5580b2" stroke-width="1.5"/>
<path d="M55.2 236.8L56.9 238.5L55.2 240.2L53.5 238.5Z" fill="#3f6fa8"/>
<text x="61.6" y="240.9" font-size="6.8" text-anchor="start" fill="#000">Acetone</text>
<line x1="49" y1="248.6" x2="60.8" y2="248.6" stroke="#b45252" stroke-width="1.5"/>
<rect x="53.5" y="246.9" width="3.4" height="3.4" fill="#b84848"/>
<text x="61.6" y="251" font-size="6.8" text-anchor="start" fill="#000">Res. intervention</text>
<line x1="49" y1="258.7" x2="60.8" y2="258.7" stroke="#a0b86c" stroke-width="1.5"/>
<path d="M55.2 257L57.07 260.06L53.33 260.06Z" fill="#8fae55"/>
<text x="61.6" y="261.1" font-size="6.8" text-anchor="start" fill="#000">Res. prevention</text>
<polyline points="231.1,264.2 237.5,264.2 237.5,330 231.1,330" fill="none" stroke="#555" stroke-width="1.0" stroke-linejoin="round"/>
<polyline points="244.3,264.2 251.2,264.2 251.2,330 244.3,330" fill="none" stroke="#555" stroke-width="1.0" stroke-linejoin="round"/>
<rect x="231.2" y="304.5" width="5.8" height="2.4" fill="#a8a8a8"/>
<text x="245.2" y="281.9" font-size="5.8" text-anchor="middle" fill="#000">n.s.</text>
<text x="245.2" y="320.2" font-size="5.8" text-anchor="middle" fill="#000">n.s.</text>
<circle cx="254.6" cy="296.0" r="1.35" fill="#000"/>
<text x="248" y="210.9" font-size="12.3" text-anchor="start" fill="#000">D</text>
<text x="334.1" y="218" font-size="8.75" text-anchor="start" fill="#000">Average tumor multiplicity</text>
<line x1="292.5" y1="223.8" x2="292.5" y2="358.9" stroke="#c4c4cc" stroke-width="1"/>
<line x1="292.5" y1="358.9" x2="497.7" y2="358.9" stroke="#c4c4cc" stroke-width="1"/>
<line x1="290" y1="358.9" x2="292.5" y2="358.9" stroke="#c4c4cc" stroke-width="1"/>
<text x="286.8" y="361.9" font-size="6.5" text-anchor="end" fill="#000">0</text>
<line x1="290" y1="345.49" x2="292.5" y2="345.49" stroke="#c4c4cc" stroke-width="1"/>
<text x="286.8" y="348.49" font-size="6.5" text-anchor="end" fill="#000">0.5</text>
<line x1="290" y1="332.08" x2="292.5" y2="332.08" stroke="#c4c4cc" stroke-width="1"/>
<text x="286.8" y="335.08" font-size="6.5" text-anchor="end" fill="#000">1</text>
<line x1="290" y1="318.67" x2="292.5" y2="318.67" stroke="#c4c4cc" stroke-width="1"/>
<text x="286.8" y="321.67" font-size="6.5" text-anchor="end" fill="#000">1.5</text>
<line x1="290" y1="305.26" x2="292.5" y2="305.26" stroke="#c4c4cc" stroke-width="1"/>
<text x="286.8" y="308.26" font-size="6.5" text-anchor="end" fill="#000">2</text>
<line x1="290" y1="291.85" x2="292.5" y2="291.85" stroke="#c4c4cc" stroke-width="1"/>
<text x="286.8" y="294.85" font-size="6.5" text-anchor="end" fill="#000">2.5</text>
<line x1="290" y1="278.44" x2="292.5" y2="278.44" stroke="#c4c4cc" stroke-width="1"/>
<text x="286.8" y="281.44" font-size="6.5" text-anchor="end" fill="#000">3</text>
<line x1="290" y1="265.03" x2="292.5" y2="265.03" stroke="#c4c4cc" stroke-width="1"/>
<text x="286.8" y="268.03" font-size="6.5" text-anchor="end" fill="#000">3.5</text>
<line x1="290" y1="251.62" x2="292.5" y2="251.62" stroke="#c4c4cc" stroke-width="1"/>
<text x="286.8" y="254.62" font-size="6.5" text-anchor="end" fill="#000">4</text>
<line x1="290" y1="238.21" x2="292.5" y2="238.21" stroke="#c4c4cc" stroke-width="1"/>
<text x="286.8" y="241.21" font-size="6.5" text-anchor="end" fill="#000">4.5</text>
<line x1="290" y1="224.8" x2="292.5" y2="224.8" stroke="#c4c4cc" stroke-width="1"/>
<text x="286.8" y="227.8" font-size="6.5" text-anchor="end" fill="#000">5</text>
<line x1="292.5" y1="358.9" x2="292.5" y2="360.9" stroke="#d4d4dc" stroke-width="1"/>
<line x1="309.6" y1="358.9" x2="309.6" y2="360.9" stroke="#d4d4dc" stroke-width="1"/>
<line x1="326.7" y1="358.9" x2="326.7" y2="360.9" stroke="#d4d4dc" stroke-width="1"/>
<line x1="343.8" y1="358.9" x2="343.8" y2="360.9" stroke="#d4d4dc" stroke-width="1"/>
<line x1="360.9" y1="358.9" x2="360.9" y2="360.9" stroke="#d4d4dc" stroke-width="1"/>
<line x1="378" y1="358.9" x2="378" y2="360.9" stroke="#d4d4dc" stroke-width="1"/>
<line x1="395.1" y1="358.9" x2="395.1" y2="360.9" stroke="#d4d4dc" stroke-width="1"/>
<line x1="412.2" y1="358.9" x2="412.2" y2="360.9" stroke="#d4d4dc" stroke-width="1"/>
<line x1="429.3" y1="358.9" x2="429.3" y2="360.9" stroke="#d4d4dc" stroke-width="1"/>
<line x1="446.4" y1="358.9" x2="446.4" y2="360.9" stroke="#d4d4dc" stroke-width="1"/>
<line x1="463.5" y1="358.9" x2="463.5" y2="360.9" stroke="#d4d4dc" stroke-width="1"/>
<line x1="480.6" y1="358.9" x2="480.6" y2="360.9" stroke="#d4d4dc" stroke-width="1"/>
<line x1="497.7" y1="358.9" x2="497.7" y2="360.9" stroke="#d4d4dc" stroke-width="1"/>
<text x="301.05" y="369" font-size="6.5" text-anchor="middle" fill="#000">14</text>
<text x="318.15" y="369" font-size="6.5" text-anchor="middle" fill="#000">15</text>
<text x="335.25" y="369" font-size="6.5" text-anchor="middle" fill="#000">16</text>
<text x="352.35" y="369" font-size="6.5" text-anchor="middle" fill="#000">17</text>
<text x="369.45" y="369" font-size="6.5" text-anchor="middle" fill="#000">18</text>
<text x="386.55" y="369" font-size="6.5" text-anchor="middle" fill="#000">19</text>
<text x="403.65" y="369" font-size="6.5" text-anchor="middle" fill="#000">20</text>
<text x="420.75" y="369" font-size="6.5" text-anchor="middle" fill="#000">21</text>
<text x="437.85" y="369" font-size="6.5" text-anchor="middle" fill="#000">22</text>
<text x="454.95" y="369" font-size="6.5" text-anchor="middle" fill="#000">23</text>
<text x="472.05" y="369" font-size="6.5" text-anchor="middle" fill="#000">24</text>
<text x="489.15" y="369" font-size="6.5" text-anchor="middle" fill="#000">25</text>
<text x="403.6" y="380.6" font-size="8.7" text-anchor="middle" fill="#000">Weeks</text>
<text x="273.1" y="291.7" font-size="7.8" text-anchor="middle" fill="#000" transform="rotate(-90 273.1 291.7)">Average tumors/mouse</text>
<line x1="335.25" y1="355.68" x2="335.25" y2="354.07" stroke="#5a5a5a" stroke-width="0.9"/>
<line x1="333.95" y1="354.07" x2="336.55" y2="354.07" stroke="#5a5a5a" stroke-width="1"/>
<line x1="352.35" y1="355.68" x2="352.35" y2="354.07" stroke="#5a5a5a" stroke-width="0.9"/>
<line x1="351.05" y1="354.07" x2="353.65" y2="354.07" stroke="#5a5a5a" stroke-width="1"/>
<line x1="369.45" y1="342" x2="369.45" y2="335.3" stroke="#5a5a5a" stroke-width="0.9"/>
<line x1="368.15" y1="335.3" x2="370.75" y2="335.3" stroke="#5a5a5a" stroke-width="1"/>
<line x1="386.55" y1="338.25" x2="386.55" y2="330.47" stroke="#5a5a5a" stroke-width="0.9"/>
<line x1="385.25" y1="330.47" x2="387.85" y2="330.47" stroke="#5a5a5a" stroke-width="1"/>
<line x1="403.65" y1="324.03" x2="403.65" y2="313.57" stroke="#5a5a5a" stroke-width="0.9"/>
<line x1="402.35" y1="313.57" x2="404.95" y2="313.57" stroke="#5a5a5a" stroke-width="1"/>
<line x1="420.75" y1="308.21" x2="420.75" y2="296.95" stroke="#5a5a5a" stroke-width="0.9"/>
<line x1="419.45" y1="296.95" x2="422.05" y2="296.95" stroke="#5a5a5a" stroke-width="1"/>
<line x1="437.85" y1="301.51" x2="437.85" y2="288.36" stroke="#5a5a5a" stroke-width="0.9"/>
<line x1="436.55" y1="288.36" x2="439.15" y2="288.36" stroke="#5a5a5a" stroke-width="1"/>
<line x1="454.95" y1="278.71" x2="454.95" y2="262.88" stroke="#5a5a5a" stroke-width="0.9"/>
<line x1="453.65" y1="262.88" x2="456.25" y2="262.88" stroke="#5a5a5a" stroke-width="1"/>
<line x1="472.05" y1="269.32" x2="472.05" y2="249.74" stroke="#5a5a5a" stroke-width="0.9"/>
<line x1="470.75" y1="249.74" x2="473.35" y2="249.74" stroke="#5a5a5a" stroke-width="1"/>
<line x1="489.15" y1="256.72" x2="489.15" y2="238.48" stroke="#5a5a5a" stroke-width="0.9"/>
<line x1="487.85" y1="238.48" x2="490.45" y2="238.48" stroke="#5a5a5a" stroke-width="1"/>
<line x1="335.25" y1="356.22" x2="335.25" y2="354.61" stroke="#5a5a5a" stroke-width="0.9"/>
<line x1="333.95" y1="354.61" x2="336.55" y2="354.61" stroke="#5a5a5a" stroke-width="1"/>
<line x1="352.35" y1="356.22" x2="352.35" y2="354.61" stroke="#5a5a5a" stroke-width="0.9"/>
<line x1="351.05" y1="354.61" x2="353.65" y2="354.61" stroke="#5a5a5a" stroke-width="1"/>
<line x1="369.45" y1="350.05" x2="369.45" y2="346.83" stroke="#5a5a5a" stroke-width="0.9"/>
<line x1="368.15" y1="346.83" x2="370.75" y2="346.83" stroke="#5a5a5a" stroke-width="1"/>
<line x1="386.55" y1="352.46" x2="386.55" y2="349.51" stroke="#5a5a5a" stroke-width="0.9"/>
<line x1="385.25" y1="349.51" x2="387.85" y2="349.51" stroke="#5a5a5a" stroke-width="1"/>
<line x1="403.65" y1="344.15" x2="403.65" y2="337.44" stroke="#5a5a5a" stroke-width="0.9"/>
<line x1="402.35" y1="337.44" x2="404.95" y2="337.44" stroke="#5a5a5a" stroke-width="1"/>
<line x1="420.75" y1="327.25" x2="420.75" y2="316.52" stroke="#5a5a5a" stroke-width="0.9"/>
<line x1="419.45" y1="316.52" x2="422.05" y2="316.52" stroke="#5a5a5a" stroke-width="1"/>
<line x1="437.85" y1="315.72" x2="437.85" y2="300.43" stroke="#5a5a5a" stroke-width="0.9"/>
<line x1="436.55" y1="300.43" x2="439.15" y2="300.43" stroke="#5a5a5a" stroke-width="1"/>
<line x1="454.95" y1="313.57" x2="454.95" y2="300.43" stroke="#5a5a5a" stroke-width="0.9"/>
<line x1="453.65" y1="300.43" x2="456.25" y2="300.43" stroke="#5a5a5a" stroke-width="1"/>
<line x1="472.05" y1="296.14" x2="472.05" y2="278.71" stroke="#5a5a5a" stroke-width="0.9"/>
<line x1="470.75" y1="278.71" x2="473.35" y2="278.71" stroke="#5a5a5a" stroke-width="1"/>
<line x1="489.15" y1="289.97" x2="489.15" y2="274.15" stroke="#5a5a5a" stroke-width="0.9"/>
<line x1="487.85" y1="274.15" x2="490.45" y2="274.15" stroke="#5a5a5a" stroke-width="1"/>
<line x1="369.45" y1="355.68" x2="369.45" y2="353.54" stroke="#5a5a5a" stroke-width="0.9"/>
<line x1="368.15" y1="353.54" x2="370.75" y2="353.54" stroke="#5a5a5a" stroke-width="1"/>
<line x1="386.55" y1="352.73" x2="386.55" y2="349.51" stroke="#5a5a5a" stroke-width="0.9"/>
<line x1="385.25" y1="349.51" x2="387.85" y2="349.51" stroke="#5a5a5a" stroke-width="1"/>
<line x1="403.65" y1="350.85" x2="403.65" y2="345.49" stroke="#5a5a5a" stroke-width="0.9"/>
<line x1="402.35" y1="345.49" x2="404.95" y2="345.49" stroke="#5a5a5a" stroke-width="1"/>
<line x1="420.75" y1="335.3" x2="420.75" y2="324.03" stroke="#5a5a5a" stroke-width="0.9"/>
<line x1="419.45" y1="324.03" x2="422.05" y2="324.03" stroke="#5a5a5a" stroke-width="1"/>
<line x1="437.85" y1="333.96" x2="437.85" y2="324.03" stroke="#5a5a5a" stroke-width="0.9"/>
<line x1="436.55" y1="324.03" x2="439.15" y2="324.03" stroke="#5a5a5a" stroke-width="1"/>
<line x1="454.95" y1="335.57" x2="454.95" y2="325.64" stroke="#5a5a5a" stroke-width="0.9"/>
<line x1="453.65" y1="325.64" x2="456.25" y2="325.64" stroke="#5a5a5a" stroke-width="1"/>
<line x1="472.05" y1="326.18" x2="472.05" y2="314.11" stroke="#5a5a5a" stroke-width="0.9"/>
<line x1="470.75" y1="314.11" x2="473.35" y2="314.11" stroke="#5a5a5a" stroke-width="1"/>
<line x1="489.15" y1="309.01" x2="489.15" y2="290.51" stroke="#5a5a5a" stroke-width="0.9"/>
<line x1="487.85" y1="290.51" x2="490.45" y2="290.51" stroke="#5a5a5a" stroke-width="1"/>
<polyline points="301.05,357.56 318.15,357.56 335.25,355.68 352.35,355.68 369.45,342 386.55,338.25 403.65,324.03 420.75,308.21 437.85,301.51 454.95,278.71 472.05,269.32 489.15,256.72" fill="none" stroke="#5580b2" stroke-width="1.7" stroke-linejoin="round"/>
<path d="M301.05 355.36L303.25 357.56L301.05 359.76L298.85 357.56Z" fill="#3f6fa8"/>
<path d="M318.15 355.36L320.35 357.56L318.15 359.76L315.95 357.56Z" fill="#3f6fa8"/>
<path d="M335.25 353.48L337.45 355.68L335.25 357.88L333.05 355.68Z" fill="#3f6fa8"/>
<path d="M352.35 353.48L354.55 355.68L352.35 357.88L350.15 355.68Z" fill="#3f6fa8"/>
<path d="M369.45 339.8L371.65 342L369.45 344.2L367.25 342Z" fill="#3f6fa8"/>
<path d="M386.55 336.05L388.75 338.25L386.55 340.45L384.35 338.25Z" fill="#3f6fa8"/>
<path d="M403.65 321.83L405.85 324.03L403.65 326.23L401.45 324.03Z" fill="#3f6fa8"/>
<path d="M420.75 306.01L422.95 308.21L420.75 310.41L418.55 308.21Z" fill="#3f6fa8"/>
<path d="M437.85 299.31L440.05 301.51L437.85 303.71L435.65 301.51Z" fill="#3f6fa8"/>
<path d="M454.95 276.51L457.15 278.71L454.95 280.91L452.75 278.71Z" fill="#3f6fa8"/>
<path d="M472.05 267.12L474.25 269.32L472.05 271.52L469.85 269.32Z" fill="#3f6fa8"/>
<path d="M489.15 254.52L491.35 256.72L489.15 258.92L486.95 256.72Z" fill="#3f6fa8"/>
<polyline points="301.05,358.36 318.15,358.36 335.25,356.22 352.35,356.22 369.45,350.05 386.55,352.46 403.65,344.15 420.75,327.25 437.85,315.72 454.95,313.57 472.05,296.14 489.15,289.97" fill="none" stroke="#b45252" stroke-width="1.7" stroke-linejoin="round"/>
<rect x="298.85" y="356.16" width="4.4" height="4.4" fill="#b84848"/>
<rect x="315.95" y="356.16" width="4.4" height="4.4" fill="#b84848"/>
<rect x="333.05" y="354.02" width="4.4" height="4.4" fill="#b84848"/>
<rect x="350.15" y="354.02" width="4.4" height="4.4" fill="#b84848"/>
<rect x="367.25" y="347.85" width="4.4" height="4.4" fill="#b84848"/>
<rect x="384.35" y="350.26" width="4.4" height="4.4" fill="#b84848"/>
<rect x="401.45" y="341.95" width="4.4" height="4.4" fill="#b84848"/>
<rect x="418.55" y="325.05" width="4.4" height="4.4" fill="#b84848"/>
<rect x="435.65" y="313.52" width="4.4" height="4.4" fill="#b84848"/>
<rect x="452.75" y="311.37" width="4.4" height="4.4" fill="#b84848"/>
<rect x="469.85" y="293.94" width="4.4" height="4.4" fill="#b84848"/>
<rect x="486.95" y="287.77" width="4.4" height="4.4" fill="#b84848"/>
<polyline points="301.05,358.9 318.15,358.9 335.25,358.9 352.35,358.9 369.45,355.68 386.55,352.73 403.65,350.85 420.75,335.3 437.85,333.96 454.95,335.57 472.05,326.18 489.15,309.01" fill="none" stroke="#a0b86c" stroke-width="1.7" stroke-linejoin="round"/>
<path d="M301.05 356.7L303.47 360.66L298.63 360.66Z" fill="#8fae55"/>
<path d="M318.15 356.7L320.57 360.66L315.73 360.66Z" fill="#8fae55"/>
<path d="M335.25 356.7L337.67 360.66L332.83 360.66Z" fill="#8fae55"/>
<path d="M352.35 356.7L354.77 360.66L349.93 360.66Z" fill="#8fae55"/>
<path d="M369.45 353.48L371.87 357.44L367.03 357.44Z" fill="#8fae55"/>
<path d="M386.55 350.53L388.97 354.49L384.13 354.49Z" fill="#8fae55"/>
<path d="M403.65 348.65L406.07 352.61L401.23 352.61Z" fill="#8fae55"/>
<path d="M420.75 333.1L423.17 337.06L418.33 337.06Z" fill="#8fae55"/>
<path d="M437.85 331.76L440.27 335.72L435.43 335.72Z" fill="#8fae55"/>
<path d="M454.95 333.37L457.37 337.33L452.53 337.33Z" fill="#8fae55"/>
<path d="M472.05 323.98L474.47 327.94L469.63 327.94Z" fill="#8fae55"/>
<path d="M489.15 306.81L491.57 310.77L486.73 310.77Z" fill="#8fae55"/>
<line x1="307.8" y1="237.8" x2="319.9" y2="237.8" stroke="#5580b2" stroke-width="1.5"/>
<path d="M314.2 236.1L315.9 237.8L314.2 239.5L312.5 237.8Z" fill="#3f6fa8"/>
<text x="320.4" y="240.2" font-size="6.8" text-anchor="start" fill="#000">Acetone</text>
<line x1="307.8" y1="247.9" x2="319.9" y2="247.9" stroke="#b45252" stroke-width="1.5"/>
<rect x="312.5" y="246.2" width="3.4" height="3.4" fill="#b84848"/>
<text x="320.4" y="250.3" font-size="6.8" text-anchor="start" fill="#000">Res. intervention</text>
<line x1="307.8" y1="258" x2="319.9" y2="258" stroke="#a0b86c" stroke-width="1.5"/>
<path d="M314.2 256.3L316.07 259.36L312.33 259.36Z" fill="#8fae55"/>
<text x="320.4" y="260.4" font-size="6.8" text-anchor="start" fill="#000">Res. prevention</text>
<polyline points="493.4,256.3 500.2,256.3 500.2,309.2 493.4,309.2" fill="none" stroke="#555" stroke-width="1.0" stroke-linejoin="round"/>
<polyline points="506,256.3 513.9,256.3 513.9,309.2 507,309.2" fill="none" stroke="#555" stroke-width="1.0" stroke-linejoin="round"/>
<rect x="493.4" y="288.7" width="6" height="2.4" fill="#a8a8a8"/>
<text x="507.2" y="273.8" font-size="5.8" text-anchor="middle" fill="#000">n.s.</text>
<text x="507.2" y="301.7" font-size="5.8" text-anchor="middle" fill="#000">n.s.</text>
<circle cx="518.3" cy="281.6" r="1.35" fill="#000"/>
</svg></body></html>
